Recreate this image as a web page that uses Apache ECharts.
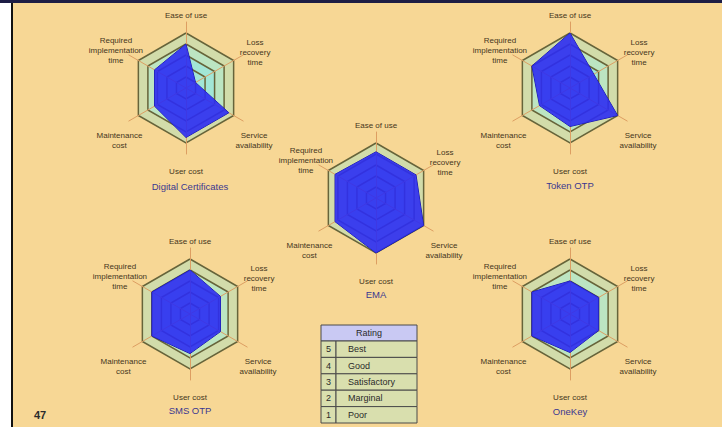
<!DOCTYPE html>
<html><head><meta charset="utf-8">
<script src="https://cdn.jsdelivr.net/npm/echarts@6/dist/echarts.min.js"></script>
<style>html,body{margin:0;padding:0;background:#fff}#c{width:722px;height:427px}</style>
</head><body><div id="c"></div><script>
// ---------- data (clockwise from top, as in the reference) ----------
const indicatorNames = ['Ease of use', 'Loss recovery time', 'Service availability', 'User cost', 'Maintenance cost', 'Required implementation time'];
const digitalCertificates = [4, 1, 4.5, 4.5, 3.3, 3.3];
const tokenOTP = [5, 2.5, 5, 3.5, 3.2, 4];
const ema = [4.2, 4.2, 5, 5, 4.3, 4.3];
const smsOTP = [4, 3.2, 3.2, 3.6, 4, 4];
const oneKey = [3, 3, 3, 3.5, 4, 4];
const chartTitles = ['Digital Certificates', 'Token OTP', 'EMA', 'SMS OTP', 'OneKey'];
const ratingScores = ['5', '4', '3', '2', '1'];
const ratingNames = ['Best', 'Good', 'Satisfactory', 'Marginal', 'Poor'];
const ratingHeader = 'Rating';
const pageNumber = '47';

// ---------- styling / layout ----------
const FONT = '"Liberation Sans", Arial, sans-serif';
const BG = '#f7d795';
const centers = [[186, 88], [570, 88], [376, 198], [190, 314], [570, 314]];
const titlePos = [[190, 186], [570, 185], [376, 294], [190, 410], [570, 411]];
const allValues = [digitalCertificates, tokenOTP, ema, smsOTP, oneKey];
// ECharts radar places indicators counter-clockwise; map clockwise order
const ccwOrder = [0, 5, 4, 3, 2, 1];
// per-label box width (lines centred inside) and vertical spacer lines
const labelBox = {
  'Ease of use': {w: 60, top: 0, bottom: 20},
  'Loss recovery time': {w: 55, top: 0, bottom: 24},
  'Service availability': {w: 53, top: 57, bottom: 0},
  'User cost': {w: 60, top: 30, bottom: 0},
  'Maintenance cost': {w: 50, top: 56, bottom: 0},
  'Required implementation time': {w: 57, top: 0, bottom: 27}
};
const lineBreaks = {
  'Ease of use': ['Ease of use'],
  'Loss recovery time': ['Loss', 'recovery', 'time'],
  'Service availability': ['Service', 'availability'],
  'User cost': ['User cost'],
  'Maintenance cost': ['Maintenance', 'cost'],
  'Required implementation time': ['Required', 'implementation', 'time']
};
const rich = {};
indicatorNames.forEach((n, i) => {
  const b = labelBox[n];
  rich['k' + i] = {width: b.w, align: 'center', fontSize: 8, lineHeight: 10, color: '#45361c', fontFamily: FONT};
  rich['t' + i] = {fontSize: 1, lineHeight: Math.max(b.top, 1)};
  rich['b' + i] = {fontSize: 1, lineHeight: Math.max(b.bottom, 1)};
});
function nameFormatter(name) {
  const i = indicatorNames.indexOf(name), b = labelBox[name];
  const parts = lineBreaks[name].map(l => '{k' + i + '|' + l + '}');
  if (b.top) parts.unshift('{t' + i + '| }');
  if (b.bottom) parts.push('{b' + i + '| }');
  return parts.join('\n');
}

const radars = centers.map(c => ({
  center: c,
  radius: 66,
  startAngle: 90,
  shape: 'polygon',
  splitNumber: 6,
  indicator: ccwOrder.map(k => ({name: indicatorNames[k], min: 0, max: 6})),
  nameGap: -18,
  axisName: {formatter: nameFormatter, rich: rich, color: '#45361c', fontSize: 8},
  axisLine: {lineStyle: {color: '#dd9e62', width: 1}},
  axisTick: {show: false},
  axisLabel: {show: false},
  splitLine: {lineStyle: {color: ['#66643a', '#66643a', '#66643a', '#66643a', '#66643a', '#66643a', 'rgba(0,0,0,0)'], width: 1.5}},
  splitArea: {areaStyle: {color: ['#a2e6d6', '#a2e6d6', '#a2e6d6', '#bce5c2', '#d2dcaa', 'rgba(0,0,0,0)']}}
}));

const series = allValues.map((vals, i) => ({
  type: 'radar',
  radarIndex: i,
  symbol: 'none',
  silent: true,
  lineStyle: {color: '#1a1a9a', width: 1},
  areaStyle: {color: '#2c2cf2', opacity: 0.9},
  data: [{name: chartTitles[i], value: ccwOrder.map(k => vals[k])}]
}));

// graphic: frame, titles, rating table, page number
const graphics = [
  {type: 'rect', shape: {x: 0, y: 0, width: 11, height: 427}, style: {fill: '#ffffff'}, silent: true},
  {type: 'rect', shape: {x: 11, y: 0, width: 2, height: 427}, style: {fill: '#111111'}, silent: true},
  {type: 'rect', shape: {x: 0, y: 0, width: 722, height: 3}, style: {fill: '#1d1d45'}, silent: true}
];
chartTitles.forEach((t, i) => graphics.push({
  type: 'text', x: titlePos[i][0], y: titlePos[i][1],
  style: {text: t, fill: '#3b3790', font: '9.5px ' + FONT, align: 'center', verticalAlign: 'middle'}
}));
const tX = 321, tY = 325, tW = 96, hH = 16, rH = 16.4, nW = 15;
graphics.push({type: 'rect', shape: {x: tX, y: tY, width: tW, height: hH}, style: {fill: '#c9c9f3', stroke: '#4a4a4a', lineWidth: 1}});
graphics.push({type: 'text', x: tX + tW / 2, y: tY + hH / 2, style: {text: ratingHeader, fill: '#2a2a2a', font: '9px ' + FONT, align: 'center', verticalAlign: 'middle'}});
ratingScores.forEach((s, i) => {
  const y = tY + hH + i * rH;
  graphics.push({type: 'rect', shape: {x: tX, y: y, width: nW, height: rH}, style: {fill: '#d9dfae', stroke: '#4a4a4a', lineWidth: 1}});
  graphics.push({type: 'rect', shape: {x: tX + nW, y: y, width: tW - nW, height: rH}, style: {fill: '#d9dfae', stroke: '#4a4a4a', lineWidth: 1}});
  graphics.push({type: 'text', x: tX + nW / 2, y: y + rH / 2, style: {text: s, fill: '#2a2a2a', font: '9px ' + FONT, align: 'center', verticalAlign: 'middle'}});
  graphics.push({type: 'text', x: tX + 27, y: y + rH / 2, style: {text: ratingNames[i], fill: '#2a2a2a', font: '9px ' + FONT, align: 'left', verticalAlign: 'middle'}});
});
graphics.push({type: 'text', x: 40, y: 415, style: {text: pageNumber, fill: '#2b2b2b', font: 'bold 11px ' + FONT, align: 'center', verticalAlign: 'middle'}});

const chart = echarts.init(document.getElementById('c'), null, {renderer: 'svg'});
chart.setOption({
  backgroundColor: BG,
  animation: false,
  radar: radars,
  series: series,
  graphic: {elements: graphics}
});
</script></body></html>
